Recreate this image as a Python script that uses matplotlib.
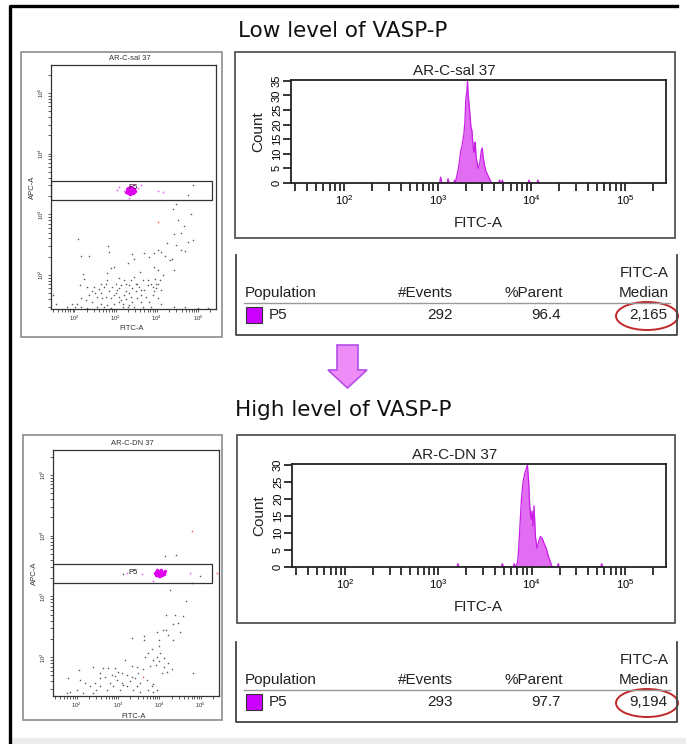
import matplotlib
matplotlib.use("Agg")
import matplotlib.pyplot as plt
import numpy as np
from matplotlib.patches import Rectangle, Ellipse, Polygon
from matplotlib.lines import Line2D
from matplotlib.ticker import FixedLocator, FixedFormatter, LogLocator, NullFormatter

plt.rcParams['font.family'] = ['Liberation Sans', 'DejaVu Sans']
plt.rcParams['mathtext.default'] = 'regular'

# ---- data ----
section_titles = ["Low level of VASP-P", "High level of VASP-P"]
sample_names = ["AR-C-sal 37", "AR-C-DN 37"]
gate_name = "P5"
table_header = ["Population", "#Events", "%Parent", "FITC-A", "Median"]
events = ["292", "293"]
parent_pct = ["96.4", "97.7"]
fitc_median = ["2,165", "9,194"]
decade_labels = ["$10^{2}$", "$10^{3}$", "$10^{4}$", "$10^{5}$"]

# histogram outlines: log10(FITC-A), count
hist_low_logx = [3.02, 3.03, 3.045, 3.10, 3.11, 3.12, 3.17, 3.18, 3.19, 3.20, 3.215, 3.23,
                 3.245, 3.255, 3.27, 3.28, 3.29, 3.30, 3.31, 3.318, 3.325, 3.335, 3.345,
                 3.355, 3.365, 3.372, 3.38, 3.386, 3.395, 3.40, 3.41, 3.42, 3.43, 3.44,
                 3.45, 3.465, 3.475, 3.485, 3.50, 3.515, 3.53, 3.545, 3.56, 3.575, 3.65,
                 3.66, 3.67, 3.68, 3.69, 3.70, 3.965, 3.975, 3.985, 4.06, 4.07, 4.08]
hist_low_count = [0, 2, 0, 0, 1.5, 0, 0, 1, 0, 2, 4, 7,
                  11, 12, 15, 17, 21, 29, 31, 35, 30, 27, 23,
                  19, 18, 15, 12, 10.5, 13, 14, 9, 7, 5, 6,
                  7, 11, 12, 9, 6, 4, 3, 2, 1, 0, 0,
                  1, 0, 0, 1, 0, 0, 1, 0, 0, 1, 0]
hist_high_logx = [3.20, 3.21, 3.22, 3.675, 3.686, 3.697, 3.80, 3.812, 3.825, 3.845, 3.855,
                  3.87, 3.89, 3.907, 3.93, 3.943, 3.954, 3.968, 3.979, 3.993, 4.004, 4.014,
                  4.025, 4.04, 4.057, 4.075, 4.093, 4.115, 4.132, 4.157, 4.175, 4.20, 4.22,
                  4.275, 4.285, 4.295, 4.74, 4.75, 4.76]
hist_high_count = [0, 1, 0, 0, 1, 0, 0, 1, 0, 1, 3,
                   10, 20, 25, 28, 29, 30, 25, 18, 14, 16.5, 12,
                   18, 9, 5.5, 7.5, 9, 8.3, 7, 5.4, 3.5, 1.5, 0,
                   0, 1, 0, 0, 1, 0]

# dot plots: (log10 FITC-A, log10 APC-A)
low_gray = [(4.47, 3.17), (4.39, 3.08), (4.82, 3.00), (4.51, 2.90), (4.66, 2.81), (4.60, 2.70),
            (4.42, 2.68), (4.88, 2.58), (4.76, 2.55), (4.46, 2.49), (4.25, 2.52), (4.60, 2.41),
            (4.68, 2.40), (4.02, 2.41), (4.11, 2.38), (3.94, 2.36), (4.19, 2.31), (4.31, 2.24),
            (4.37, 2.27), (2.08, 2.59), (2.15, 2.32), (2.35, 2.31), (2.82, 2.47), (2.84, 2.38),
            (3.29, 2.19), (3.45, 2.27), (3.39, 2.35), (3.70, 2.36), (3.82, 2.30), (3.94, 2.14),
            (4.02, 2.08), (4.43, 2.09), (4.15, 2.00), (4.07, 1.92), (3.98, 1.86), (3.90, 1.80),
            (2.21, 2.02), (2.23, 1.94), (2.13, 1.84), (2.31, 1.80), (2.47, 1.81), (2.60, 1.77),
            (2.64, 1.70), (2.78, 1.92), (2.96, 2.14), (2.88, 2.11), (3.00, 1.86), (3.09, 1.95),
            (3.13, 1.84), (3.21, 1.92), (3.25, 1.86), (3.37, 1.92), (3.45, 1.97), (3.53, 1.86),
            (3.60, 2.05), (3.66, 1.92), (3.78, 1.92), (3.86, 1.86), (3.96, 1.93), (3.70, 1.75),
            (3.49, 1.73), (3.33, 1.70), (3.21, 1.67), (3.09, 1.64), (2.96, 1.67), (2.84, 1.73),
            (2.76, 1.64), (2.68, 1.62), (2.56, 1.64), (2.43, 1.73), (2.35, 1.67), (2.27, 1.59),
            (2.17, 1.62), (2.07, 1.53), (2.43, 1.56), (2.64, 1.53), (2.80, 1.51), (2.96, 1.53),
            (3.09, 1.56), (3.17, 1.53), (3.25, 1.60), (3.33, 1.51), (3.41, 1.56), (3.53, 1.62),
            (3.62, 1.56), (3.74, 1.64), (3.82, 1.56), (3.94, 1.73), (4.02, 1.62), (4.11, 1.53),
            (3.45, 1.48), (3.29, 1.48), (3.17, 1.47), (2.88, 1.45), (2.72, 1.48), (2.56, 1.48),
            (2.31, 1.45), (2.15, 1.48), (1.49, 1.67), (1.56, 1.53), (1.82, 1.48), (1.93, 1.53),
            (2.02, 1.48), (3.66, 1.48), (3.86, 1.48), (4.43, 1.48), (4.68, 1.48), (5.00, 1.45),
            (5.25, 1.45), (3.09, 1.78), (3.41, 1.78), (3.62, 1.75), (3.78, 1.84), (3.98, 1.78),
            (3.04, 1.75), (2.88, 1.62), (3.62, 1.67), (3.37, 1.64), (2.64, 1.86), (2.51, 1.70),
            (2.72, 1.81), (2.92, 1.81), (3.00, 1.70), (3.13, 1.59), (3.25, 1.73), (3.33, 1.84),
            (3.49, 1.86), (3.58, 1.81), (3.90, 1.67), (4.02, 1.86), (4.11, 1.75), (2.78, 2.04),
            (2.76, 1.86), (4.88, 3.48), (4.76, 3.31)]
low_red = [(4.04, 2.87)]
low_p5 = [(3.30, 3.40), (3.33, 3.42), (3.36, 3.39), (3.38, 3.41), (3.40, 3.38), (3.35, 3.37),
          (3.32, 3.36), (3.37, 3.44), (3.42, 3.40), (3.44, 3.37), (3.28, 3.38), (3.31, 3.43),
          (3.39, 3.35), (3.34, 3.45), (3.41, 3.43), (3.36, 3.34), (3.29, 3.35), (3.45, 3.42),
          (3.38, 3.38), (3.33, 3.39), (3.35, 3.41), (3.40, 3.42), (3.27, 3.41), (3.43, 3.35),
          (3.37, 3.36), (3.31, 3.39), (3.39, 3.44), (3.34, 3.33), (3.47, 3.39), (3.26, 3.37),
          (3.36, 3.42), (3.42, 3.38)]
low_p5_sparse = [(3.09, 3.45), (3.04, 3.40), (3.55, 3.44), (3.62, 3.48), (4.02, 3.38),
                 (4.15, 3.37), (3.33, 3.27), (3.20, 3.39)]

high_gray = [(4.14, 3.67), (4.40, 3.68), (4.78, 3.22), (4.26, 3.10), (4.65, 2.92), (4.15, 2.70),
             (4.38, 2.70), (4.58, 2.67), (4.46, 2.56), (4.34, 2.55), (3.94, 2.42), (4.08, 2.45),
             (4.15, 2.44), (4.50, 2.42), (4.32, 2.29), (4.22, 2.37), (3.63, 2.34), (3.64, 2.29),
             (3.35, 2.31), (3.98, 2.29), (4.00, 2.18), (3.81, 2.13), (3.73, 2.07), (3.65, 2.00),
             (4.02, 2.07), (4.10, 1.98), (4.22, 1.90), (4.30, 1.80), (3.94, 2.00), (3.85, 1.96),
             (3.17, 1.95), (3.33, 1.86), (3.45, 1.84), (3.61, 1.80), (3.77, 1.85), (3.92, 1.87),
             (4.00, 1.93), (4.10, 1.84), (2.06, 1.79), (2.39, 1.84), (2.65, 1.82), (2.77, 1.82),
             (2.93, 1.82), (3.01, 1.76), (3.09, 1.74), (3.21, 1.71), (2.85, 1.71), (2.69, 1.68),
             (2.56, 1.65), (2.44, 1.57), (2.32, 1.52), (2.20, 1.57), (2.08, 1.63), (1.80, 1.65),
             (2.02, 1.46), (1.84, 1.43), (1.76, 1.41), (2.97, 1.63), (3.09, 1.57), (3.29, 1.60),
             (3.41, 1.65), (3.53, 1.57), (3.69, 1.63), (3.81, 1.52), (3.94, 1.46), (2.56, 1.52),
             (2.73, 1.46), (2.89, 1.52), (3.05, 1.46), (3.21, 1.52), (3.37, 1.46), (3.53, 1.43),
             (3.73, 1.46), (3.85, 1.43), (2.48, 1.46), (2.16, 1.41), (2.40, 1.41), (2.81, 1.57),
             (3.13, 1.54), (3.45, 1.52), (3.85, 1.55), (4.06, 1.74), (4.18, 1.76), (4.82, 1.74),
             (2.56, 1.74), (2.93, 1.69), (3.33, 1.68), (3.49, 1.74), (4.97, 3.34), (3.11, 3.37)]
high_red = [(4.78, 4.07), (3.61, 1.68), (5.39, 3.38)]
high_p5 = [(3.93, 3.38), (3.96, 3.40), (3.99, 3.37), (4.02, 3.39), (4.05, 3.36), (3.98, 3.35),
           (3.95, 3.36), (4.00, 3.42), (4.04, 3.41), (4.08, 3.38), (3.91, 3.40), (3.94, 3.43),
           (4.01, 3.34), (3.97, 3.42), (4.03, 3.37), (4.06, 3.40), (3.92, 3.35), (4.10, 3.37),
           (3.99, 3.39), (3.96, 3.37), (4.01, 3.40), (4.12, 3.39), (3.89, 3.38), (4.07, 3.35),
           (3.95, 3.39), (4.03, 3.43), (3.98, 3.33), (4.14, 3.41)]
high_p5_sparse = [(3.57, 3.37), (3.84, 3.25), (4.74, 3.39), (3.23, 3.39)]

# gate P5 in data units (FITC-A right edge, APC-A low, APC-A high)
low_gate = (2.15e5, 1700, 3600)
high_gate = (1.85e5, 1650, 3450)

W, H = 686, 744
fig = plt.figure(figsize=(W / 100, H / 100), dpi=100)
fig.patch.set_facecolor('white')


def px_axes(x0, y0, x1, y1):
    return fig.add_axes([x0 / W, 1 - y1 / H, (x1 - x0) / W, (y1 - y0) / H])


def ftext(x, y, s, **kw):
    fig.text(x / W, 1 - y / H, s, **kw)


def fline(xs, ys, **kw):
    fig.add_artist(Line2D([v / W for v in xs], [1 - v / H for v in ys],
                          transform=fig.transFigure, **kw))


def fbox(x0, y0, x1, y1, **kw):
    fig.add_artist(Rectangle((x0 / W, 1 - y1 / H), (x1 - x0) / W, (y1 - y0) / H,
                             transform=fig.transFigure, fill=False, **kw))


def dot_plot(box, frame, gray, red, p5, p5_sparse, gate, name, label_xy, label_color, dy):
    fbox(*frame, edgecolor='#8c8c8c', lw=1.2)
    ax = px_axes(*box)
    g = np.array(gray)
    ax.scatter(10 ** g[:, 0], 10 ** g[:, 1], s=1.3, color='#5a5a5a', lw=0)
    r = np.array(red)
    ax.scatter(10 ** r[:, 0], 10 ** r[:, 1], s=1.5, color='#ff6060', lw=0)
    p = np.array(p5)
    ax.scatter(10 ** p[:, 0], 10 ** p[:, 1], s=6, color='#e000f0', lw=0)
    q = np.array(p5_sparse)
    ax.scatter(10 ** q[:, 0], 10 ** q[:, 1], s=1.8, color='#e870f4', lw=0)
    ax.set_xscale('log')
    ax.set_yscale('log')
    ax.set_xlim(27, 275000)
    ax.set_ylim(10 ** dy[0], 10 ** dy[1])
    ax.add_patch(Rectangle((ax.get_xlim()[0], gate[1]), gate[0] - ax.get_xlim()[0],
                           gate[2] - gate[1], fill=False, edgecolor='#333333', lw=0.9))
    ax.text(label_xy[0], label_xy[1], gate_name, fontsize=5.5, color=label_color,
            ha='center', va='center')
    for axis in (ax.xaxis, ax.yaxis):
        axis.set_major_locator(FixedLocator([1e2, 1e3, 1e4, 1e5]))
        axis.set_major_formatter(FixedFormatter(decade_labels))
        axis.set_minor_locator(LogLocator(base=10, subs=np.arange(2, 10), numticks=50))
        axis.set_minor_formatter(NullFormatter())
    ax.tick_params(which='both', direction='out', length=2.5, width=0.6, labelsize=4.3,
                   pad=1, color='#444444', labelcolor='#333333')
    ax.tick_params(axis='y', labelrotation=90)
    for lbl in ax.get_yticklabels():
        lbl.set_va('center')
    for s in ax.spines.values():
        s.set_linewidth(0.9)
        s.set_color('#333333')
    cx = (box[0] + box[2]) / 2
    ftext(cx - 4, box[1] - 3, name, fontsize=5.5, ha='center', va='bottom', color='#333333')
    ftext(cx - 2, box[3] + 20, "FITC-A", fontsize=5.5, ha='center', va='center', color='#333333')
    ftext(box[0] - 19, (box[1] + box[3]) / 2, "APC-A", fontsize=5.5, ha='center',
          va='center', rotation=90, color='#333333')


def histogram(box, frame, lx, cnt, ymax, ytop, name, title_x):
    fbox(*frame, edgecolor='#555555', lw=1.3)
    ax = px_axes(*box)
    xs = 10 ** np.array(lx)
    ax.fill_between(xs, cnt, color='#e26cf2', lw=0)
    ax.plot(xs, cnt, color='#c81ee6', lw=0.9)
    ax.set_xscale('log')
    ax.set_xlim(27, 275000)
    ax.set_ylim(0, ytop)
    ax.xaxis.set_major_locator(FixedLocator([1e2, 1e3, 1e4, 1e5]))
    ax.xaxis.set_major_formatter(FixedFormatter(decade_labels))
    ax.xaxis.set_minor_locator(LogLocator(base=10, subs=np.arange(2, 10), numticks=50))
    ax.xaxis.set_minor_formatter(NullFormatter())
    ax.set_yticks(range(0, ymax + 1, 5))
    ax.tick_params(axis='x', which='both', direction='out', length=5.5, width=1.1,
                   labelsize=8, pad=2)
    ax.tick_params(axis='y', direction='out', length=5.5, width=1.1, labelsize=8,
                   pad=1, labelrotation=90)
    for lbl in ax.get_yticklabels():
        lbl.set_va('center')
    for s in ax.spines.values():
        s.set_linewidth(1.3)
        s.set_color('#222222')
    ftext(title_x, box[1] - 2, name, fontsize=11, ha='center', va='bottom', color='#222222')
    ftext(478, box[3] + 40, "FITC-A", fontsize=11, ha='center', va='center', color='#222222')
    ftext(box[0] - 33, (box[1] + box[3]) / 2, "Count", fontsize=11, ha='center',
          va='center', rotation=90, color='#222222')


def stats_table(top, i):
    # top = y of the header line "FITC-A"
    fline([236, 236, 677, 677], [top - 18, top + 62, top + 62, top - 18], color='#444444', lw=1.3)
    ftext(669, top, table_header[3], fontsize=11, ha='right', va='center', color='#222222')
    ftext(245, top + 20, table_header[0], fontsize=11, ha='left', va='center', color='#222222')
    ftext(453, top + 20, table_header[1], fontsize=11, ha='right', va='center', color='#222222')
    ftext(563, top + 20, table_header[2], fontsize=11, ha='right', va='center', color='#222222')
    ftext(669, top + 20, table_header[4], fontsize=11, ha='right', va='center', color='#222222')
    fline([244, 670], [top + 30, top + 30], color='#999999', lw=1.0)
    fig.add_artist(Rectangle((246 / W, 1 - (top + 50) / H), 16 / W, 16 / H,
                             transform=fig.transFigure, facecolor='#cc00ff',
                             edgecolor='#333333', lw=0.8))
    ftext(269, top + 42, gate_name, fontsize=11, ha='left', va='center', color='#222222')
    ftext(453, top + 42, events[i], fontsize=11, ha='right', va='center', color='#222222')
    ftext(561, top + 42, parent_pct[i], fontsize=11, ha='right', va='center', color='#222222')
    ftext(667, top + 42, fitc_median[i], fontsize=11, ha='right', va='center', color='#222222')
    fig.add_artist(Ellipse((647 / W, 1 - (top + 43) / H), 62 / W, 28 / H,
                           transform=fig.transFigure, fill=False, edgecolor='#c0282a', lw=1.4))


# outer frame and footer band
fig.add_artist(Rectangle((12 / W, 0), (W - 12) / W, 6 / H, transform=fig.transFigure,
                         facecolor='#ececec', lw=0))
fline([10, 10, 677], [744, 6, 6], color='black', lw=2.4)

# section titles
ftext(343, 31, section_titles[0], fontsize=15.5, ha='center', va='center',
      family='DejaVu Sans', color='#111111')
ftext(343, 410, section_titles[1], fontsize=15.5, ha='center', va='center',
      family='DejaVu Sans', color='#111111')

# low panel
dot_plot((51, 65, 216, 309), (21, 52, 222, 337), low_gray, low_red, low_p5, low_p5_sparse,
         low_gate, sample_names[0], (2600, 2750), '#3a003a', (1.44, 5.46))
histogram((291, 80, 666, 183), (235, 52, 675, 238), hist_low_logx, hist_low_count,
          35, 35.3, sample_names[0], 454)
stats_table(273, 0)

# arrow
arrow_px = [(337, 345), (358, 345), (358, 370), (367, 370), (347.5, 388), (328, 370), (337, 370)]
fig.add_artist(Polygon([(x / W, 1 - y / H) for x, y in arrow_px], closed=True,
                       transform=fig.transFigure, facecolor='#ee8cf8',
                       edgecolor='#b44ee6', lw=1.2))

# high panel
dot_plot((53, 450, 219, 696), (23, 435, 222, 720), high_gray, high_red, high_p5, high_p5_sparse,
         high_gate, sample_names[1], (2350, 2450), '#111111', (1.36, 5.41))
histogram((292, 464, 666, 567), (237, 435, 675, 623), hist_high_logx, hist_high_count,
          30, 30.3, sample_names[1], 455)
stats_table(660, 1)

fig.savefig("out.png", dpi=100)
